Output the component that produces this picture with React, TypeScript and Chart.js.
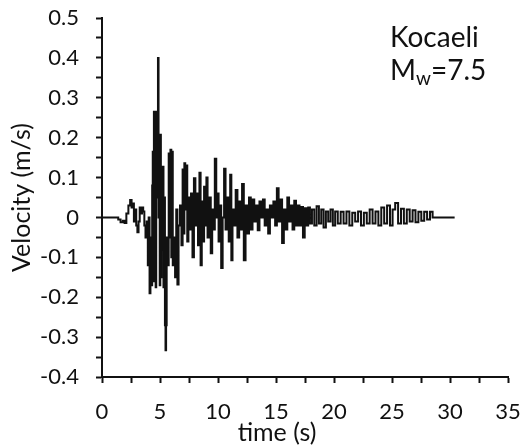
import { useEffect, useRef } from "react";
import { Chart, registerables } from "chart.js";

Chart.register(...registerables);

// Ground velocity record, Kocaeli earthquake
const timeS = [
  0, 1.3, 1.5, 1.7, 1.9, 2.0, 2.2, 2.35, 2.5, 2.6, 2.7, 2.8, 2.9, 3.0, 3.1, 3.2, 3.3, 3.4, 3.5, 3.6,
  3.7, 3.8, 3.9, 4.0, 4.05, 4.15, 4.2, 4.3, 4.35, 4.4, 4.45, 4.5, 4.55, 4.6, 4.65, 4.7, 4.75, 4.8, 4.85, 4.9,
  4.95, 5.0, 5.05, 5.1, 5.15, 5.2, 5.25, 5.35, 5.4, 5.45, 5.5, 5.55, 5.6, 5.7, 5.8, 5.85, 5.95, 6.0, 6.05, 6.15,
  6.25, 6.35, 6.45, 6.55, 6.65, 6.8, 6.9, 7.0, 7.05, 7.15, 7.2, 7.3, 7.4, 7.5, 7.6, 7.75, 7.85, 8.0, 8.1, 8.2,
  8.35, 8.45, 8.55, 8.65, 8.75, 8.85, 8.95, 9.05, 9.15, 9.3, 9.45, 9.55, 9.65, 9.8, 9.9, 10.0, 10.1, 10.2, 10.35, 10.45,
  10.6, 10.7, 10.85, 11.0, 11.1, 11.2, 11.3, 11.45, 11.6, 11.75, 11.9, 12.0, 12.15, 12.3, 12.45, 12.6, 12.75, 12.9, 13.05, 13.2,
  13.35, 13.5, 13.65, 13.8, 13.95, 14.1, 14.25, 14.4, 14.55, 14.7, 14.85, 15.0, 15.15, 15.3, 15.45, 15.6, 15.75, 15.9, 16.05, 16.2,
  16.35, 16.5, 16.65, 16.8, 16.95, 17.1, 17.25, 17.4, 17.55, 17.7, 17.85, 18.0, 18.2, 18.4, 18.6, 18.8, 19.0, 19.2, 19.4, 19.6,
  19.8, 20.0, 20.2, 20.45, 20.7, 20.95, 21.2, 21.45, 21.7, 21.95, 22.2, 22.45, 22.7, 22.95, 23.2, 23.45, 23.7, 23.95, 24.2, 24.45,
  24.7, 24.95, 25.15, 25.4, 25.65, 25.9, 26.15, 26.4, 26.65, 26.9, 27.15, 27.4, 27.65, 27.9, 28.15, 28.4, 28.6, 28.9, 30.4,
];

const velocity = [
  0, 0, -0.005, -0.012, -0.008, -0.014, 0.01, 0.03, 0.044, 0.025, 0.035, -0.01, 0.02, -0.02, -0.037, -0.01, 0.025, 0.01, 0.025, 0.015,
  -0.02, -0.05, -0.01, -0.12, 0.0, -0.19, -0.05, -0.17, 0.08, 0.165, -0.16, 0.265, -0.1, 0.26, -0.175, 0.265, 0.05, 0.265, 0.4, 0.0,
  0.207, -0.17, 0.207, -0.15, 0.127, -0.08, 0.127, -0.175, 0.05, -0.27, -0.333, -0.27, -0.05, -0.12, 0.16, -0.05, 0.17, -0.1, 0.165, -0.12,
  -0.05, -0.15, 0.02, -0.168, -0.02, 0.03, -0.07, 0.12, -0.04, 0.136, 0.02, 0.13, -0.06, 0.05, -0.03, 0.06, -0.1, 0.098, -0.02, 0.06,
  -0.07, 0.112, -0.12, 0.04, -0.06, 0.077, -0.02, 0.1, -0.05, 0.05, -0.09, 0.02, -0.03, 0.147, 0.0, 0.06, -0.06, 0.03, -0.127, 0.0,
  0.122, -0.03, 0.05, -0.06, 0.107, -0.107, 0.02, -0.02, 0.069, -0.05, 0.04, -0.03, 0.084, -0.107, 0.03, -0.04, 0.05, -0.03, 0.045, -0.01,
  0.03, -0.032, 0.04, 0.0, 0.045, -0.02, 0.02, -0.04, 0.03, 0.0, 0.04, -0.02, 0.073, -0.01, 0.045, -0.064, 0.02, -0.03, 0.05, -0.01,
  0.03, -0.03, 0.042, -0.02, 0.03, -0.02, 0.026, -0.05, 0.023, -0.02, 0.025, -0.015, 0.02, -0.02, 0.028, -0.015, 0.02, -0.025, 0.015, -0.01,
  0.02, -0.02, 0.015, -0.015, 0.014, -0.015, 0.015, -0.02, 0.012, -0.01, 0.015, -0.02, 0.012, -0.015, 0.02, -0.015, 0.015, -0.02, 0.025, -0.015,
  0.03, -0.02, 0.02, 0.036, -0.015, 0.022, -0.015, 0.02, -0.01, 0.018, -0.012, 0.014, -0.008, 0.014, -0.005, 0.014, 0.0, 0.0, 0.0,
];

// Axis ranges and tick spacing (labels every 5 s / 0.1 m/s, unlabeled marks in between)
const xRange = [0, 35];
const xStep = 2.5;
const yRange = [-0.4, 0.5];
const yStep = 0.05;

const xTitle = "time (s)";
const yTitle = "Velocity (m/s)";
const eventName = "Kocaeli";
const magnitudeText = ["M", "w", "=7.5"];

const FONT = "Lato, 'Open Sans', sans-serif";
const INK = "#111";

// Event name, magnitude with subscript, and the time-axis title
const textLayer = {
  id: "textLayer",
  afterDraw(chart: any) {
    const { ctx, chartArea } = chart;
    ctx.save();
    ctx.fillStyle = INK;
    ctx.textBaseline = "alphabetic";
    ctx.textAlign = "left";
    const x0 = chartArea.right - 118;
    ctx.font = `28px ${FONT}`;
    ctx.fillText(eventName, x0, chartArea.top + 29);
    const yb = chartArea.top + 62;
    ctx.fillText(magnitudeText[0], x0, yb);
    let x = x0 + ctx.measureText(magnitudeText[0]).width;
    ctx.font = `19px ${FONT}`;
    ctx.fillText(magnitudeText[1], x, yb + 5);
    x += ctx.measureText(magnitudeText[1]).width;
    ctx.font = `28px ${FONT}`;
    ctx.fillText(magnitudeText[2], x, yb);

    ctx.textAlign = "center";
    ctx.font = `25px ${FONT}`;
    const xs = chart.scales.x;
    ctx.fillText(xTitle, xs.getPixelForValue(15) + 1, chart.height - 7);
    ctx.restore();
  },
};

export default function App() {
  const canvasRef = useRef<HTMLCanvasElement | null>(null);

  useEffect(() => {
    const canvas = canvasRef.current;
    if (!canvas) return;
    const points = timeS.map((t, i) => ({ x: t, y: velocity[i] }));
    const chart = new Chart(canvas, {
      type: "line",
      data: {
        datasets: [
          {
            data: points,
            borderColor: INK,
            borderWidth: 2,
            pointRadius: 0,
            stepped: "middle",
            fill: false,
          },
        ],
      },
      options: {
        responsive: false,
        animation: false,
        layout: { padding: { top: 18, right: 19, bottom: 0, left: 0 } },
        plugins: {
          legend: { display: false },
          tooltip: { enabled: false },
        },
        scales: {
          x: {
            type: "linear",
            min: xRange[0],
            max: xRange[1],
            afterFit: (s: any) => {
              s.height = 71;
              s.paddingLeft = 0;
              s.paddingRight = 0;
            },
            ticks: {
              stepSize: xStep,
              autoSkip: false,
              maxRotation: 0,
              padding: 16,
              color: INK,
              font: { family: FONT, size: 22 },
              callback: (v: any) => {
                const r = Math.round(Number(v) * 10);
                return r % 50 === 0 ? String(r / 10) : "";
              },
            },
            grid: { drawOnChartArea: false, tickLength: 6, tickColor: INK, tickWidth: 2 },
            border: { color: INK, width: 2 },
          },
          y: {
            type: "linear",
            min: yRange[0],
            max: yRange[1],
            afterFit: (s: any) => {
              s.width = 102;
              s.paddingTop = 0;
              s.paddingBottom = 0;
            },
            ticks: {
              stepSize: yStep,
              autoSkip: false,
              padding: 17,
              color: INK,
              font: { family: FONT, size: 22 },
              callback: (v: any) => {
                const r = Math.round(Number(v) * 100);
                return r % 10 === 0 ? String(r / 100) : "";
              },
            },
            grid: { drawOnChartArea: false, tickLength: 6, tickColor: INK, tickWidth: 2 },
            border: { color: INK, width: 2 },
            title: {
              display: true,
              text: yTitle,
              color: INK,
              font: { family: FONT, size: 25 },
              padding: { top: 7, bottom: 0 },
            },
          },
        },
      },
      plugins: [textLayer],
    });
    return () => chart.destroy();
  }, []);

  return (
    <div style={{ position: "absolute", left: 0, top: 0, width: 527, height: 448, background: "#fff" }}>
      <canvas ref={canvasRef} width={527} height={448} />
    </div>
  );
}
